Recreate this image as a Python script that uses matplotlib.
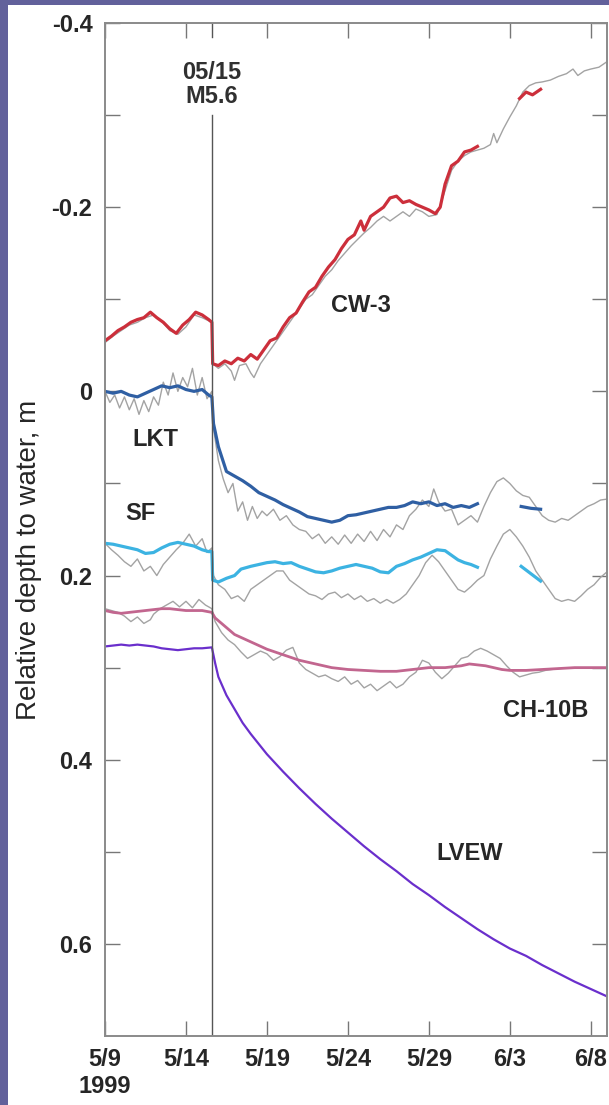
import numpy as np
import matplotlib
matplotlib.use("Agg")
import matplotlib.pyplot as plt
from matplotlib.patches import Rectangle
from matplotlib.ticker import FixedLocator

# days since 5/9/1999, relative depth to water (m); nan = gap in record
quake_day = 6.6

cw3_day = [0, 0.4, 0.8, 1.2, 1.6, 2.0, 2.4, 2.8, 3.2, 3.6, 4.0, 4.4, 4.8, 5.2, 5.6, 6.0, 6.4, 6.6,
           6.65, 7.0, 7.4, 7.8, 8.2, 8.6, 9.0, 9.4, 9.8, 10.2, 10.6, 11.0, 11.4, 11.8, 12.2, 12.6,
           13.0, 13.4, 13.8, 14.2, 14.6, 15.0, 15.4, 15.8, 16.0, 16.4, 16.8, 17.2, 17.6, 18.0, 18.4,
           18.8, 19.2, 19.6, 20.0, 20.4, 20.7, 21.0, 21.4, 21.8, 22.2, 22.6, 23.0, 23.1,
           25.6, 26.0, 26.4, 26.9]
cw3_val = [-0.055, -0.06, -0.066, -0.07, -0.075, -0.078, -0.08, -0.086, -0.08, -0.075, -0.068, -0.063,
           -0.072, -0.078, -0.086, -0.083, -0.078, -0.075,
           -0.03, -0.028, -0.033, -0.03, -0.036, -0.033, -0.04, -0.035, -0.045, -0.055, -0.058, -0.07,
           -0.08, -0.085, -0.097, -0.108, -0.113, -0.125, -0.135, -0.143, -0.155, -0.165, -0.17, -0.185,
           -0.175, -0.19, -0.195, -0.2, -0.21, -0.212, -0.205, -0.207, -0.203, -0.2, -0.197, -0.193,
           -0.2, -0.225, -0.245, -0.25, -0.26, -0.262, -0.266, np.nan,
           -0.318, -0.325, -0.322, -0.328]

cw3_grey_day = [0, 0.5, 1.0, 1.5, 2.0, 2.5, 3.0, 3.5, 4.0, 4.5, 5.0, 5.5, 6.0, 6.6, 6.65, 7.0, 7.4, 7.8,
                8.0, 8.3, 8.7, 9.0, 9.2, 9.6, 10.0, 10.4, 10.8, 11.2, 11.6, 12.0, 12.4, 12.8, 13.2, 13.6,
                14.0, 14.4, 14.8, 15.2, 15.6, 16.0, 16.4, 16.8, 17.2, 17.6, 18.0, 18.4, 18.8, 19.2, 19.6,
                20.0, 20.5, 21.0, 21.4, 21.8, 22.2, 22.6, 23.0, 23.4, 23.8, 24.0, 24.2, 24.6, 25.0, 25.4,
                25.8, 26.2, 26.6, 27.0, 27.5, 28.0, 28.5, 28.9, 29.2, 29.6, 30.0, 30.5, 31.0]
cw3_grey_val = [-0.053, -0.06, -0.066, -0.072, -0.075, -0.08, -0.083, -0.076, -0.066, -0.062, -0.07,
                -0.083, -0.08, -0.075, -0.03, -0.025, -0.03, -0.022, -0.012, -0.028, -0.03, -0.02, -0.015,
                -0.03, -0.04, -0.05, -0.06, -0.07, -0.08, -0.09, -0.1, -0.105, -0.115, -0.125, -0.132,
                -0.142, -0.15, -0.158, -0.165, -0.172, -0.178, -0.185, -0.19, -0.185, -0.19, -0.195, -0.19,
                -0.198, -0.195, -0.19, -0.192, -0.218, -0.24, -0.25, -0.256, -0.26, -0.262, -0.264, -0.268,
                -0.28, -0.27, -0.285, -0.298, -0.31, -0.325, -0.332, -0.335, -0.336, -0.338, -0.342,
                -0.345, -0.35, -0.343, -0.348, -0.35, -0.352, -0.358]

lkt_day = [0, 0.5, 1.0, 1.5, 2.0, 2.5, 3.0, 3.5, 4.0, 4.5, 5.0, 5.5, 6.0, 6.4, 6.6,
           6.7, 7.0, 7.5, 8.0, 8.5, 9.0, 9.5, 10.0, 10.5, 11.0, 11.5, 12.0, 12.5, 13.0, 13.5, 14.0,
           14.5, 15.0, 15.5, 16.0, 16.5, 17.0, 17.5, 18.0, 18.5, 19.0, 19.5, 20.0, 20.5, 21.0, 21.5,
           22.0, 22.5, 23.0, 23.1, 25.7, 26.3, 26.9]
lkt_val = [0.0, 0.002, 0.0, 0.004, 0.006, 0.002, -0.002, -0.006, -0.004, -0.006, -0.002, 0.0, -0.002,
           0.004, 0.006,
           0.035, 0.06, 0.087, 0.092, 0.097, 0.103, 0.11, 0.114, 0.118, 0.123, 0.127, 0.131, 0.136,
           0.138, 0.14, 0.142, 0.14, 0.135, 0.134, 0.132, 0.13, 0.128, 0.126, 0.126, 0.124, 0.12, 0.122,
           0.12, 0.124, 0.122, 0.126, 0.124, 0.126, 0.122, np.nan, 0.125, 0.127, 0.128]

lkt_grey_day = [0, 0.3, 0.6, 0.9, 1.2, 1.5, 1.8, 2.1, 2.4, 2.7, 3.0, 3.3, 3.6, 3.9, 4.2, 4.5, 4.8, 5.1,
                5.4, 5.7, 6.0, 6.3, 6.6, 6.7, 7.0, 7.3, 7.6, 7.9, 8.2, 8.5, 8.8, 9.1, 9.4, 9.7, 10.0, 10.4,
                10.8, 11.2, 11.6, 12.0, 12.4, 12.8, 13.2, 13.6, 14.0, 14.4, 14.8, 15.2, 15.6, 16.0, 16.4,
                16.8, 17.2, 17.6, 18.0, 18.4, 18.8, 19.2, 19.6, 20.0, 20.3, 20.6, 21.0, 21.4, 21.8, 22.2,
                22.6, 23.0, 23.4, 23.8, 24.2, 24.6, 25.0, 25.4, 25.8, 26.2, 26.6, 27.0, 27.4, 27.8, 28.2,
                28.6, 29.0, 29.4, 29.8, 30.2, 30.6, 31.0]
lkt_grey_val = [0.0, 0.012, 0.004, 0.018, 0.006, 0.02, 0.008, 0.025, 0.01, 0.022, 0.006, 0.015, -0.01,
                0.004, -0.02, 0.0, -0.015, -0.005, -0.025, 0.004, -0.015, 0.008, 0.0,
                0.04, 0.075, 0.095, 0.11, 0.1, 0.13, 0.12, 0.14, 0.125, 0.138, 0.13, 0.135, 0.128, 0.14,
                0.135, 0.145, 0.15, 0.152, 0.16, 0.155, 0.165, 0.158, 0.166, 0.156, 0.165, 0.155, 0.163,
                0.152, 0.162, 0.15, 0.158, 0.145, 0.15, 0.135, 0.128, 0.118, 0.125, 0.106, 0.12, 0.13,
                0.128, 0.145, 0.14, 0.135, 0.142, 0.125, 0.11, 0.098, 0.094, 0.1, 0.108, 0.113, 0.115,
                0.125, 0.135, 0.14, 0.142, 0.138, 0.14, 0.135, 0.13, 0.125, 0.122, 0.118, 0.117]

sf_day = [0, 0.5, 1.0, 1.5, 2.0, 2.5, 3.0, 3.5, 4.0, 4.5, 5.0, 5.5, 6.0, 6.4, 6.6,
          6.65, 7.0, 7.5, 8.0, 8.4, 9.0, 9.5, 10.0, 10.5, 11.0, 11.5, 12.0, 12.5, 13.0, 13.5, 14.0,
          14.5, 15.0, 15.5, 16.0, 16.5, 17.0, 17.5, 18.0, 18.5, 19.0, 19.5, 20.0, 20.5, 21.0, 21.4,
          21.8, 22.2, 22.6, 23.0, 23.1, 25.7, 26.3, 26.9]
sf_val = [0.165, 0.166, 0.168, 0.17, 0.172, 0.176, 0.175, 0.17, 0.166, 0.164, 0.166, 0.168, 0.172,
          0.174, 0.174,
          0.205, 0.207, 0.203, 0.2, 0.193, 0.19, 0.188, 0.186, 0.185, 0.187, 0.186, 0.19, 0.193, 0.196,
          0.197, 0.195, 0.192, 0.19, 0.188, 0.19, 0.192, 0.196, 0.197, 0.19, 0.187, 0.183, 0.18, 0.176,
          0.172, 0.173, 0.178, 0.183, 0.186, 0.188, 0.191, np.nan, 0.19, 0.198, 0.206]

sf_grey_day = [0, 0.4, 0.8, 1.2, 1.6, 2.0, 2.4, 2.8, 3.2, 3.6, 4.0, 4.4, 4.8, 5.2, 5.6, 6.0, 6.3, 6.6,
               6.7, 7.0, 7.4, 7.8, 8.2, 8.6, 9.0, 9.4, 9.8, 10.2, 10.6, 11.0, 11.4, 11.8, 12.2, 12.6,
               13.0, 13.4, 13.8, 14.2, 14.6, 15.0, 15.4, 15.8, 16.2, 16.6, 17.0, 17.4, 17.8, 18.2, 18.6,
               19.0, 19.4, 19.8, 20.2, 20.6, 21.0, 21.4, 21.8, 22.2, 22.6, 23.0, 23.4, 23.8, 24.2, 24.6,
               25.0, 25.4, 25.8, 26.2, 26.6, 27.0, 27.4, 27.8, 28.2, 28.6, 29.0, 29.4, 29.8, 30.2, 30.6,
               31.0]
sf_grey_val = [0.165, 0.172, 0.178, 0.185, 0.19, 0.182, 0.195, 0.19, 0.2, 0.188, 0.18, 0.172, 0.165,
               0.155, 0.168, 0.16, 0.175, 0.17,
               0.2, 0.21, 0.215, 0.225, 0.222, 0.228, 0.215, 0.21, 0.205, 0.2, 0.195, 0.195, 0.205, 0.21,
               0.215, 0.22, 0.222, 0.226, 0.22, 0.218, 0.224, 0.22, 0.226, 0.222, 0.228, 0.225, 0.23,
               0.226, 0.23, 0.226, 0.22, 0.21, 0.2, 0.186, 0.178, 0.185, 0.195, 0.205, 0.215, 0.218,
               0.212, 0.205, 0.2, 0.182, 0.168, 0.155, 0.15, 0.158, 0.168, 0.18, 0.195, 0.205, 0.215,
               0.225, 0.228, 0.226, 0.228, 0.222, 0.215, 0.21, 0.202, 0.196]

ch10b_day = [0, 0.5, 1.0, 1.5, 2.0, 2.5, 3.0, 3.5, 4.0, 4.5, 5.0, 5.5, 6.0, 6.6,
             6.8, 7.2, 7.6, 8.0, 8.5, 9.0, 9.5, 10.0, 10.5, 11.0, 11.5, 12.0, 12.5, 13.0, 13.5, 14.0,
             14.5, 15.0, 16.0, 17.0, 18.0, 19.0, 20.0, 21.0, 22.0, 22.5, 23.0, 23.5, 24.0, 24.5, 25.0,
             26.0, 27.0, 28.0, 29.0, 30.0, 31.0]
ch10b_val = [0.238, 0.24, 0.241, 0.24, 0.239, 0.238, 0.237, 0.236, 0.236, 0.237, 0.238, 0.238, 0.238,
             0.24,
             0.246, 0.252, 0.258, 0.264, 0.268, 0.272, 0.276, 0.28, 0.283, 0.286, 0.289, 0.292, 0.294,
             0.296, 0.298, 0.3, 0.301, 0.302, 0.303, 0.304, 0.304, 0.302, 0.3, 0.3, 0.298, 0.296, 0.297,
             0.298, 0.3, 0.302, 0.303, 0.303, 0.302, 0.301, 0.3, 0.3, 0.3]

ch10b_grey_day = [0, 0.4, 0.8, 1.2, 1.6, 2.0, 2.4, 2.8, 3.0, 3.4, 3.8, 4.2, 4.6, 5.0, 5.4, 5.8, 6.2,
                  6.6, 6.8, 7.2, 7.6, 8.0, 8.4, 8.8, 9.2, 9.6, 10.0, 10.4, 10.8, 11.2, 11.6, 12.0, 12.4,
                  12.8, 13.2, 13.6, 14.0, 14.4, 14.8, 15.2, 15.6, 16.0, 16.4, 16.8, 17.2, 17.6, 18.0,
                  18.4, 18.8, 19.2, 19.6, 20.0, 20.4, 20.8, 21.2, 21.6, 22.0, 22.4, 22.8, 23.2, 23.6,
                  24.0, 24.4, 24.8, 25.2, 25.6, 26.0, 26.4, 26.8, 27.2, 27.6, 28.0, 29.0, 30.0, 31.0]
ch10b_grey_val = [0.236, 0.238, 0.24, 0.244, 0.25, 0.245, 0.252, 0.248, 0.242, 0.236, 0.232, 0.228,
                  0.234, 0.228, 0.235, 0.226, 0.232, 0.236,
                  0.25, 0.262, 0.27, 0.275, 0.283, 0.29, 0.286, 0.282, 0.285, 0.292, 0.288, 0.281,
                  0.278, 0.295, 0.302, 0.306, 0.31, 0.308, 0.312, 0.315, 0.31, 0.318, 0.314, 0.322,
                  0.318, 0.325, 0.32, 0.315, 0.322, 0.318, 0.31, 0.305, 0.292, 0.295, 0.305, 0.312,
                  0.306, 0.298, 0.29, 0.288, 0.282, 0.279, 0.282, 0.286, 0.29, 0.298, 0.305, 0.31,
                  0.308, 0.306, 0.305, 0.303, 0.302, 0.301, 0.3, 0.3, 0.3]

lvew_day = [0, 0.5, 1.0, 1.5, 2.0, 2.5, 3.0, 3.5, 4.0, 4.5, 5.0, 5.5, 6.0, 6.6,
            6.8, 7.0, 7.5, 8.0, 8.5, 9.0, 9.5, 10.0, 11.0, 12.0, 13.0, 14.0, 15.0, 16.0, 17.0, 18.0,
            19.0, 20.0, 21.0, 22.0, 23.0, 24.0, 25.0, 26.0, 27.0, 28.0, 29.0, 30.0, 31.0]
lvew_val = [0.277, 0.276, 0.275, 0.276, 0.275, 0.276, 0.277, 0.279, 0.28, 0.281, 0.28, 0.279, 0.279,
            0.278,
            0.295, 0.31, 0.33, 0.345, 0.36, 0.372, 0.383, 0.394, 0.413, 0.431, 0.448, 0.464, 0.479,
            0.494, 0.508, 0.521, 0.535, 0.547, 0.56, 0.572, 0.584, 0.595, 0.605, 0.613, 0.623, 0.632,
            0.641, 0.649, 0.657]

xtick_days = [0, 5, 10, 15, 20, 25, 30]
xtick_labels = ["5/9\n1999", "5/14", "5/19", "5/24", "5/29", "6/3", "6/8"]

plt.rcParams['font.family'] = ['Liberation Sans', 'DejaVu Sans']
plt.rcParams['font.weight'] = 'bold'

fig = plt.figure(figsize=(6.09, 11.05), dpi=100)
fig.patch.set_facecolor('#62619b')
fig.patches.append(Rectangle((8 / 609, 0), 1, 1 - 5 / 1105, transform=fig.transFigure,
                             facecolor='white', edgecolor='none', zorder=-10))

ax = fig.add_axes([105 / 609, 1 - 1036 / 1105, 502 / 609, 1013 / 1105])
ax.set_zorder(5)
ax.patch.set_alpha(0)
ax.set_xlim(0, 31)
ax.set_ylim(0.7, -0.4)

grey = '#a3a3a3'
ax.plot(cw3_grey_day, cw3_grey_val, color=grey, lw=1.0)
ax.plot(lkt_grey_day, lkt_grey_val, color=grey, lw=1.0)
ax.plot(sf_grey_day, sf_grey_val, color=grey, lw=1.0)
ax.plot(ch10b_grey_day, ch10b_grey_val, color=grey, lw=1.0)

ax.plot(cw3_day, cw3_val, color='#cc2f3b', lw=2.3)
ax.plot(lkt_day, lkt_val, color='#2f5fa3', lw=2.3)
ax.plot(sf_day, sf_val, color='#3cb3e2', lw=2.3)
ax.plot(ch10b_day, ch10b_val, color='#c2668f', lw=2.0)
ax.plot(lvew_day, lvew_val, color='#6a2fcc', lw=1.6)

# earthquake marker
ax.plot([quake_day, quake_day], [0.7, -0.3], color='#555555', lw=1.0)
ax.plot([quake_day, quake_day], [-0.4, -0.385], color='#555555', lw=1.0)
ax.text(quake_day, -0.333, "05/15\nM5.6", ha='center', va='center', fontsize=17,
        color='#303030', linespacing=1.05)

lbl = dict(fontsize=17, color='#262626')
ax.text(15.8, -0.093, "CW-3", ha='center', va='center', **lbl)
ax.text(3.1, 0.052, "LKT", ha='center', va='center', **lbl)
ax.text(2.2, 0.133, "SF", ha='center', va='center', **lbl)
ax.text(27.2, 0.347, "CH-10B", ha='center', va='center', **lbl)
ax.text(22.5, 0.502, "LVEW", ha='center', va='center', **lbl)

ax.set_xticks(xtick_days)
ax.set_xticklabels(xtick_labels)
ax.yaxis.set_major_locator(FixedLocator([-0.4, -0.2, 0.0, 0.2, 0.4, 0.6]))
ax.set_yticklabels(["-0.4", "-0.2", "0", "0.2", "0.4", "0.6"])
ax.yaxis.set_minor_locator(FixedLocator([-0.3, -0.1, 0.1, 0.3, 0.5]))
ax.tick_params(which='both', direction='in', length=11, width=1.0, color='#777777',
               top=True, right=True, labelsize=17, labelcolor='#262626', pad=9)
ax.tick_params(axis='x', pad=9)
for s in ax.spines.values():
    s.set_color('#8a8a8a')
    s.set_linewidth(1.4)

ax.set_ylabel("Relative depth to water, m", fontsize=20, color='#262626',
              fontweight='normal', va='center')
ax.yaxis.set_label_coords(-0.152, 0.47)

fig.savefig("out.png", dpi=100, facecolor=fig.get_facecolor())
